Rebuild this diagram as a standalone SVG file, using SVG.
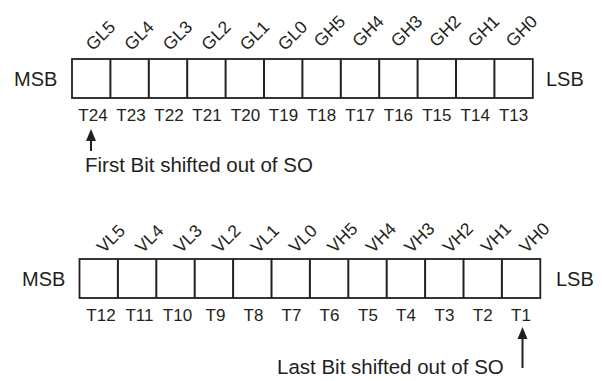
<svg xmlns="http://www.w3.org/2000/svg" width="602" height="381" viewBox="0 0 602 381">
<style>
text{font-family:"Liberation Sans",Arial,sans-serif;fill:#231f20}
.side{font-size:20px}
.t{font-size:17px;text-anchor:middle}
.r{font-size:17.5px}
.cap{font-size:20.5px}
.cell{fill:#fff;stroke:#231f20;stroke-width:1.8}
.conn{stroke:#231f20;stroke-width:2;fill:none}
.head{fill:#231f20}
</style>
<g id="reg1">
<rect class="cell" x="72" y="59" width="460.8" height="39"/>
<path class="conn" d="M110.4,59V98M148.8,59V98M187.2,59V98M225.6,59V98M264,59V98M302.4,59V98M340.8,59V98M379.2,59V98M417.6,59V98M456,59V98M494.4,59V98"/>
<text class="side" x="14" y="86">MSB</text>
<text class="side" x="546" y="86">LSB</text>
<g transform="translate(93,51.5) rotate(-45)"><text class="r">GL5</text></g>
<g transform="translate(131.5,51.5) rotate(-45)"><text class="r">GL4</text></g>
<g transform="translate(170,51.5) rotate(-45)"><text class="r">GL3</text></g>
<g transform="translate(208.5,51.5) rotate(-45)"><text class="r">GL2</text></g>
<g transform="translate(247,51.5) rotate(-45)"><text class="r">GL1</text></g>
<g transform="translate(285,51.5) rotate(-45)"><text class="r">GL0</text></g>
<g transform="translate(321,48) rotate(-45)"><text class="r">GH5</text></g>
<g transform="translate(359.5,48) rotate(-45)"><text class="r">GH4</text></g>
<g transform="translate(398,48) rotate(-45)"><text class="r">GH3</text></g>
<g transform="translate(436.5,48) rotate(-45)"><text class="r">GH2</text></g>
<g transform="translate(475,48) rotate(-45)"><text class="r">GH1</text></g>
<g transform="translate(513,48) rotate(-45)"><text class="r">GH0</text></g>
<g class="t">
<text x="93" y="121">T24</text>
<text x="131" y="121">T23</text>
<text x="169" y="121">T22</text>
<text x="207" y="121">T21</text>
<text x="245.5" y="121">T20</text>
<text x="283.5" y="121">T19</text>
<text x="321.6" y="121">T18</text>
<text x="360" y="121">T17</text>
<text x="398.4" y="121">T16</text>
<text x="436.8" y="121">T15</text>
<text x="475.2" y="121">T14</text>
<text x="513.6" y="121">T13</text>
</g>
</g>
<g id="reg2">
<rect class="cell" x="79.5" y="259" width="460.8" height="39"/>
<path class="conn" d="M117.9,259V298M156.3,259V298M194.7,259V298M233.1,259V298M271.5,259V298M309.9,259V298M348.3,259V298M386.7,259V298M425.1,259V298M463.5,259V298M501.9,259V298"/>
<text class="side" x="22" y="286">MSB</text>
<text class="side" x="556" y="286">LSB</text>
<g transform="translate(104,254) rotate(-45)"><text class="r">VL5</text></g>
<g transform="translate(142.5,254) rotate(-45)"><text class="r">VL4</text></g>
<g transform="translate(181,254) rotate(-45)"><text class="r">VL3</text></g>
<g transform="translate(219.5,254) rotate(-45)"><text class="r">VL2</text></g>
<g transform="translate(258,254) rotate(-45)"><text class="r">VL1</text></g>
<g transform="translate(296,254) rotate(-45)"><text class="r">VL0</text></g>
<g transform="translate(334.5,254) rotate(-45)"><text class="r">VH5</text></g>
<g transform="translate(373,254) rotate(-45)"><text class="r">VH4</text></g>
<g transform="translate(411.5,254) rotate(-45)"><text class="r">VH3</text></g>
<g transform="translate(450,254) rotate(-45)"><text class="r">VH2</text></g>
<g transform="translate(488,254) rotate(-45)"><text class="r">VH1</text></g>
<g transform="translate(526.5,254) rotate(-45)"><text class="r">VH0</text></g>
<g class="t">
<text x="101" y="321">T12</text>
<text x="139.5" y="321">T11</text>
<text x="177.5" y="321">T10</text>
<text x="215.5" y="321">T9</text>
<text x="253.5" y="321">T8</text>
<text x="291.5" y="321">T7</text>
<text x="329.5" y="321">T6</text>
<text x="368" y="321">T5</text>
<text x="406" y="321">T4</text>
<text x="444.5" y="321">T3</text>
<text x="482.7" y="321">T2</text>
<text x="521" y="321">T1</text>
</g>
</g>
<g id="note1">
<text class="cap" x="85" y="172">First Bit shifted out of SO</text>
</g>
<g id="note2">
<text class="cap" x="277" y="374">Last Bit shifted out of SO</text>
</g>
<g id="connectors">
<line class="conn" x1="91" y1="151" x2="91" y2="139"/>
<polygon class="head" points="91,129 96,141 86,141"/>
<line class="conn" x1="522.5" y1="368" x2="522.5" y2="337"/>
<polygon class="head" points="522.5,327 527.5,339 517.5,339"/>
</g>
</svg>
